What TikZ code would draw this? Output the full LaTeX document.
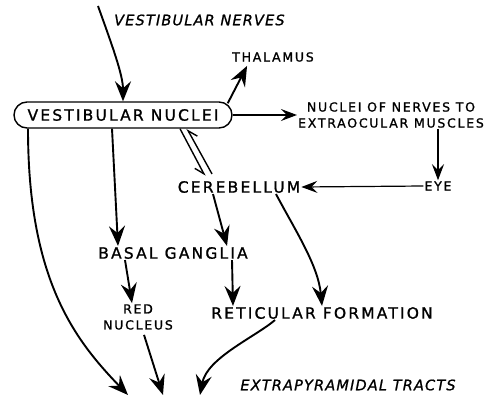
\documentclass[tikz,border=0pt]{standalone}
\usepackage{fontspec}
\newfontfamily\labfont[LetterSpace=14, FakeBold=1.2]{DejaVu Sans}
\newfontfamily\slfont[LetterSpace=8, FakeBold=1]{DejaVu Sans}
\usetikzlibrary{arrows.meta, positioning}
\tikzset{
  box/.style ={draw, line width=1.4pt, rounded corners=13pt, minimum width=218pt,
               minimum height=26pt, font=\labfont\fontsize{15.5}{17}\selectfont},
  lbl/.style ={font=\labfont\fontsize{15.5}{17}\selectfont, inner sep=1pt},
  sml/.style ={font=\labfont\fontsize{12.5}{16}\selectfont, inner sep=1pt, align=center},
  ital/.style={font=\slfont\itshape\fontsize{14.5}{16}\selectfont, inner sep=1pt},
  arr/.style ={-{Stealth[length=20pt, width=16pt, inset=7pt]}, line width=1.9pt},
  tarr/.style={-{Stealth[length=16pt, width=12pt, inset=6pt]}, line width=1.2pt},
  half/.style={-{Straight Barb[right, length=9pt, width=11pt]}, line width=1.4pt},
}
\begin{document}
\begin{tikzpicture}[x=1pt, y=-1pt]
  \useasboundingbox (0,0) rectangle (489,396);
  \node[box]                (vnuc)   at (123,115) {VESTIBULAR NUCLEI};
  \node[ital, anchor=west]  (nerves) at (113,20)  {VESTIBULAR NERVES};
  \node[sml]                (thal)   at (273,57)  {THALAMUS};
  \node[sml]                (extra)  at (391,115) {NUCLEI OF NERVES TO\\EXTRAOCULAR MUSCLES};
  \node[sml]                (eye)    at (438,186) {EYE};
  \node[lbl]                (cereb)  at (239,187) {CEREBELLUM};
  \node[lbl]                (basal)  at (173,253) {BASAL GANGLIA};
  \node[sml]                (red)    at (138,317) {RED\\NUCLEUS};
  \node[lbl]                (retic)  at (322,313) {RETICULAR FORMATION};
  \node[ital]               (tracts) at (348,385) {EXTRAPYRAMIDAL TRACTS};

  \coordinate (in) at (98,6);
  \coordinate (o1) at (128,395);
  \coordinate (o2) at (163,395);
  \coordinate (o3) at (200,395);

  \draw[arr]  (in) .. controls (112,45) and (123,75) .. (vnuc.north);
  \draw[arr]  ([xshift=-5pt,yshift=-2pt]vnuc.north east) -- ([xshift=16pt,yshift=-3pt]thal.south west);
  \draw[tarr] (vnuc.east) -- (extra.west);
  \draw[tarr] (extra.south -| eye.north) -- (eye.north);
  \draw[tarr] (eye.west) -- (cereb.east);
  \draw[half] ([xshift=57pt]vnuc.south) -- ([xshift=-34pt,yshift=4pt]cereb.north);
  \draw[half] ([xshift=-27pt,yshift=6pt]cereb.north) -- ([xshift=64pt]vnuc.south);
  \draw[arr]  ([xshift=-11pt]vnuc.south) -- ([xshift=-55pt]basal.north);
  \draw[arr]  ([xshift=-95pt]vnuc.south) .. controls (28,280) and (75,340) .. (o1);
  \draw[arr]  ([xshift=-26pt]cereb.south) -- ([xshift=54pt]basal.north);
  \draw[arr]  ([xshift=37pt]cereb.south) .. controls (295,230) and (318,265) .. (retic.north);
  \draw[arr]  ([xshift=-48pt]basal.south) -- ([xshift=-6pt]red.north);
  \draw[arr]  ([xshift=59pt]basal.south) -- ([xshift=-89pt]retic.north);
  \draw[arr]  ([xshift=6pt,yshift=-4pt]red.south) -- (o2);
  \draw[arr]  ([xshift=-47pt]retic.south) .. controls (255,337) and (207,358) .. (o3);
\end{tikzpicture}
\end{document}
